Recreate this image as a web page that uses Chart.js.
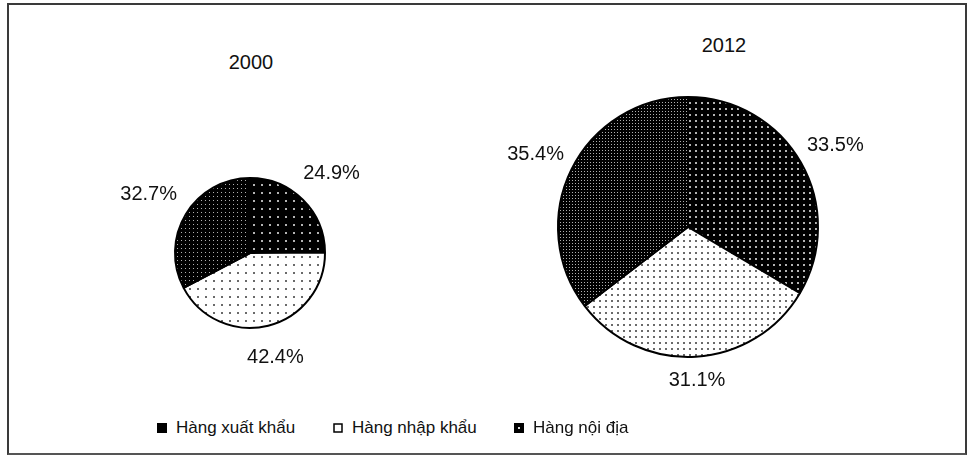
<!DOCTYPE html>
<html>
<head>
<meta charset="utf-8">
<script src="https://cdn.jsdelivr.net/npm/chart.js@4.4.0/dist/chart.umd.min.js"></script>
<style>
  html, body { margin: 0; padding: 0; background: #fff; }
  body { width: 968px; height: 460px; position: relative; overflow: hidden;
         font-family: "Liberation Sans", Arial, sans-serif; color: #111; }
  #frame { position: absolute; left: 7px; top: 3px; width: 956px; height: 448px;
           border: 2px solid #3a3a3a; border-bottom-color: #555; }
  canvas.pie { position: absolute; }
  .year { position: absolute; font-size: 20px; transform: translate(-50%, -50%); white-space: nowrap; }
  .item { position: absolute; top: 428px; transform: translateY(-50%); display: flex; align-items: center;
          font-size: 17px; white-space: nowrap; }
  .item canvas { margin-right: 9px; }
</style>
</head>
<body>
<div id="frame"></div>
<div class="year" id="year0" style="left:251px; top:62px;"></div>
<div class="year" id="year1" style="left:724px; top:45px;"></div>
<canvas class="pie" id="pie0" width="300" height="300" style="left:100px; top:103px;"></canvas>
<canvas class="pie" id="pie1" width="420" height="420" style="left:478px; top:17px;"></canvas>
<div id="legend"></div>

<script>
// data
const years = ["2000", "2012"];
const categories = ["Hàng xuất khẩu", "Hàng nhập khẩu", "Hàng nội địa"];
const share2000 = [24.9, 42.4, 32.7];
const share2012 = [33.5, 31.1, 35.4];

// layout bits
const pieRadius = [75, 130];
const dotStep = [8, 6];
const labelGap = [15, 11];
const legendX = [157, 333, 514];

document.getElementById("year0").innerText = years[0];
document.getElementById("year1").innerText = years[1];

// dotted fills: black with sparse dots, white with dots, black with dense dots
function makePattern(ctx, bg, dot, step, size) {
    const c = document.createElement("canvas");
    c.width = step;
    c.height = step;
    const g = c.getContext("2d");
    g.fillStyle = bg;
    g.fillRect(0, 0, step, step);
    g.fillStyle = dot;
    g.fillRect(1, 1, size, size);
    return ctx.createPattern(c, "repeat");
}

function fillsFor(ctx, step) {
    return [
        makePattern(ctx, "#000", "#b4b4b4", step, 2),
        makePattern(ctx, "#fff", "#6a6a6a", step, 2),
        makePattern(ctx, "#000", "#b0b0b0", Math.round(step / 2), 1)
    ];
}

function outerLabels(gap) {
    return {
        id: "outerLabels",
        afterDatasetsDraw(chart) {
            const ctx = chart.ctx;
            const meta = chart.getDatasetMeta(0);
            const values = chart.data.datasets[0].data;
            ctx.save();
            ctx.font = '20px "Liberation Sans", Arial, sans-serif';
            ctx.fillStyle = "#111";
            ctx.textAlign = "center";
            ctx.textBaseline = "middle";
            meta.data.forEach((arc, i) => {
                const p = arc.getProps(["x", "y", "startAngle", "endAngle", "outerRadius"], true);
                const mid = (p.startAngle + p.endAngle) / 2;
                const text = values[i].toFixed(1) + "%";
                const hw = ctx.measureText(text).width / 2;
                const c = Math.cos(mid), s = Math.sin(mid);
                const d = p.outerRadius + gap + Math.abs(c) * hw + Math.abs(s) * 8;
                ctx.fillText(text, p.x + c * d, p.y + s * d + 3);
            });
            ctx.restore();
        }
    };
}

function drawPie(id, values, radius, step, gap) {
    const ctx = document.getElementById(id).getContext("2d");
    return new Chart(ctx, {
        type: "pie",
        data: {
            labels: categories,
            datasets: [{
                data: values,
                backgroundColor: fillsFor(ctx, step),
                borderColor: "#000",
                borderWidth: 2,
                hoverOffset: 0
            }]
        },
        options: {
            responsive: false,
            animation: false,
            radius: radius,
            layout: { padding: 0 },
            events: [],
            plugins: {
                legend: { display: false },
                tooltip: { enabled: false }
            }
        },
        plugins: [outerLabels(gap)]
    });
}

drawPie("pie0", share2000, pieRadius[0], dotStep[0], labelGap[0]);
drawPie("pie1", share2012, pieRadius[1], dotStep[1], labelGap[1]);

// legend
const legendDiv = document.getElementById("legend");
categories.forEach((name, i) => {
    const item = document.createElement("div");
    item.className = "item";
    item.style.left = legendX[i] + "px";
    const icon = document.createElement("canvas");
    icon.width = 10;
    icon.height = 10;
    const g = icon.getContext("2d");
    if (i == 1) {
        g.fillStyle = "#fff";
        g.fillRect(0, 0, 10, 10);
        g.strokeStyle = "#000";
        g.lineWidth = 1.5;
        g.strokeRect(1, 1, 8, 8);
    } else {
        g.fillStyle = "#000";
        g.fillRect(0, 0, 10, 10);
        if (i == 2) {
            g.fillStyle = "#ddd";
            g.fillRect(4, 4, 2, 2);
        }
    }
    const label = document.createElement("span");
    label.innerText = name;
    item.appendChild(icon);
    item.appendChild(label);
    legendDiv.appendChild(item);
});
</script>
</body>
</html>
